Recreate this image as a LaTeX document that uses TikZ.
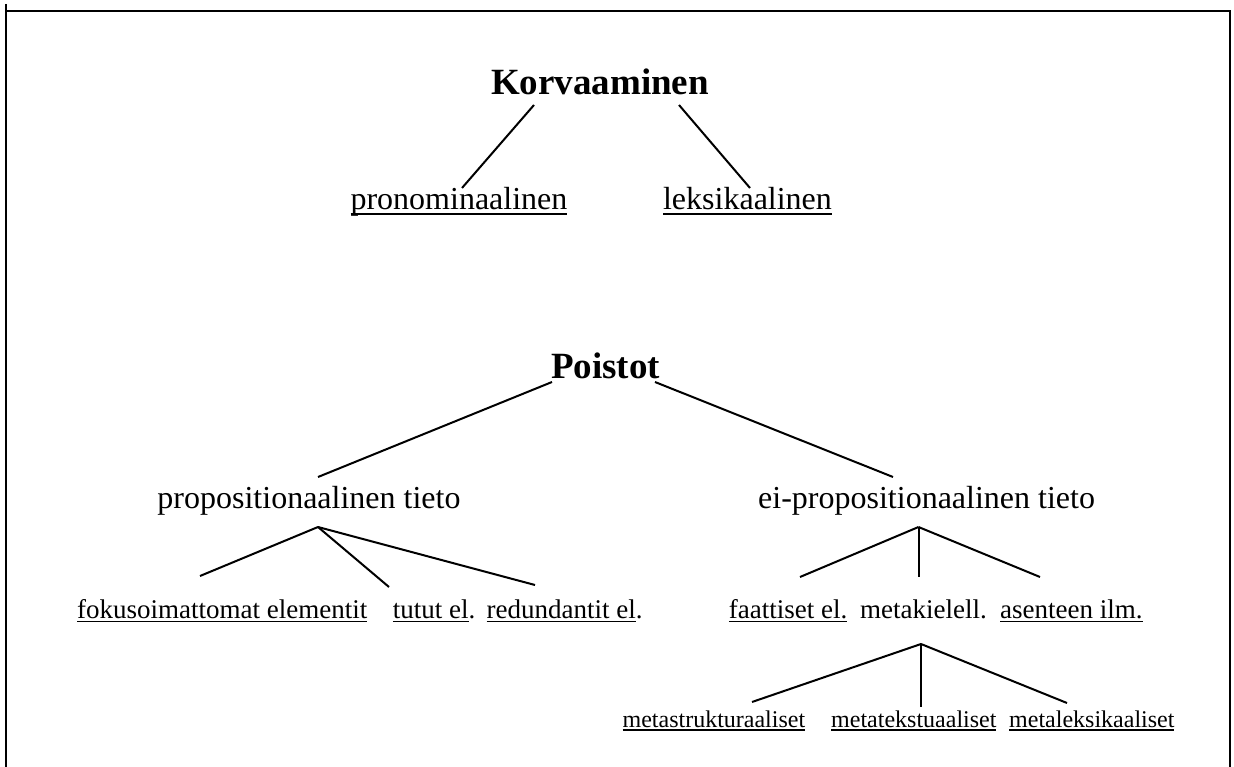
\documentclass[tikz,border=0pt]{standalone}
\usepackage{fontspec}
\setmainfont{Liberation Serif}
\newcommand\ulx[1]{\setbox0\hbox{#1}\rlap{\rule[-0.16em]{\wd0}{0.06em}}\box0}
\begin{document}
\begin{tikzpicture}[x=1pt,y=-1pt]
\tikzset{
 head/.style={font=\fontsize{37}{40}\selectfont\bfseries, inner sep=0pt, anchor=base},
 mid/.style={font=\fontsize{32}{36}\selectfont, inner sep=0pt, anchor=base},
 leaf/.style={font=\fontsize{27}{30}\selectfont, inner sep=0pt, anchor=base west},
 sub/.style={font=\fontsize{24}{27}\selectfont, inner sep=0pt, anchor=base west},
 conn/.style={line width=2pt},
 frame/.style={line width=2.2pt}
}
\useasboundingbox (0,0) rectangle (1234,767);
% frame
\draw[frame] (6,4) -- (6,767);
\draw[frame] (6,11) -- (1230,11) -- (1230,767);
% nodes
\node[head] (k) at (600,95) {Korvaaminen};
\node[mid] (pro) at (459,210) {\ulx{pronominaalinen}};
\node[mid] (lek) at (747.5,210) {\ulx{leksikaalinen}};
\node[head] (p) at (605.5,378) {Poistot};
\node[mid] (pt) at (309,508) {propositionaalinen tieto};
\node[mid,anchor=base west] (ept) at (758,508) {ei-propositionaalinen tieto};
\node[leaf] (fok) at (77,618) {\ulx{fokusoimattomat elementit}};
\node[leaf] (tut) at (392.6,618) {\ulx{tutut el}.};
\node[leaf] (red) at (486.5,618) {\ulx{redundantit el}.};
\node[leaf] (faa) at (728.6,618) {\ulx{faattiset el.}};
\node[leaf] (mk) at (860,618) {metakielell.};
\node[leaf] (ase) at (1000,618) {\ulx{asenteen ilm.}};
\node[sub] (mst) at (622.4,727) {\ulx{metastrukturaaliset}};
\node[sub] (mte) at (831,727) {\ulx{metatekstuaaliset}};
\node[sub] (mle) at (1009,727) {\ulx{metaleksikaaliset}};
% apex coordinates
\coordinate (ptA) at ([shift={(9,19)}]pt.base);
\coordinate (eptA) at ([shift={(160.5,19)}]ept.base west);
\coordinate (mkA) at ([shift={(61,26)}]mk.base west);
% connectors
\draw[conn] ([shift={(-66,10)}]k.base) -- ([shift={(3,-22)}]pro.base);
\draw[conn] ([shift={(79,10)}]k.base) -- ([shift={(2.5,-22)}]lek.base);
\draw[conn] ([shift={(-53.5,4)}]p.base) -- ([shift={(9,-31)}]pt.base);
\draw[conn] ([shift={(49.5,4)}]p.base) -- ([shift={(135,-31)}]ept.base west);
\draw[conn] (ptA) -- ([shift={(123,-42)}]fok.base west);
\draw[conn] (ptA) -- ([shift={(-3.6,-31)}]tut.base west);
\draw[conn] (ptA) -- ([shift={(48.5,-33)}]red.base west);
\draw[conn] (eptA) -- ([shift={(71.4,-41)}]faa.base west);
\draw[conn] (eptA) -- ([shift={(58.5,-41)}]mk.base west);
\draw[conn] (eptA) -- ([shift={(40,-41)}]ase.base west);
\draw[conn] (mkA) -- ([shift={(129.6,-25)}]mst.base west);
\draw[conn] (mkA) -- ([shift={(90,-20)}]mte.base west);
\draw[conn] (mkA) -- ([shift={(58,-24)}]mle.base west);
\end{tikzpicture}
\end{document}
